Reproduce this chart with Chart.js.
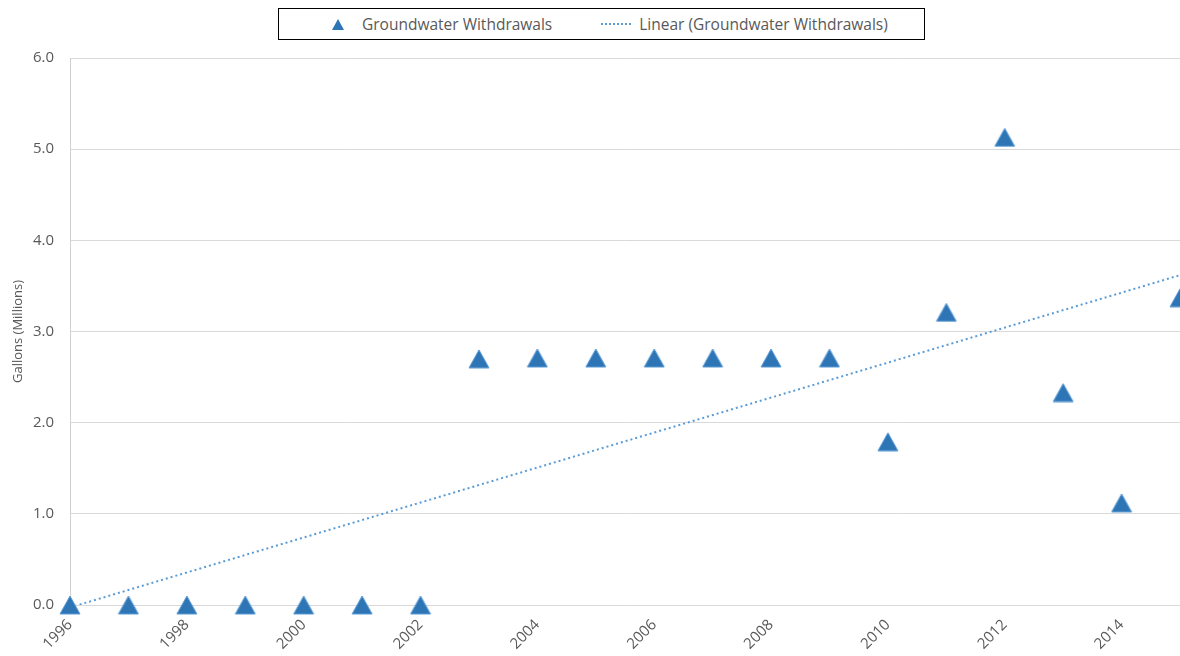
<!DOCTYPE html>
<html>
<head>
<meta charset="utf-8">
<title>Groundwater Withdrawals</title>
<script src="https://cdn.jsdelivr.net/npm/chart.js@4.4.1/dist/chart.umd.min.js"></script>
<style>
  html, body { margin: 0; padding: 0; background: #fff; }
  #wrap { position: relative; width: 1180px; height: 656px; overflow: hidden; }
  #legend {
    position: absolute; left: 278px; top: 8px; width: 647px; height: 32px;
    box-sizing: border-box; border: 1px solid #000; background: #fff;
    display: flex; align-items: center;
    font-family: "Open Sans", sans-serif; font-size: 15.5px; color: #595959;
  }
  .tri {
    width: 0; height: 0; margin-left: 53px; margin-right: 18px;
    border-left: 6px solid transparent; border-right: 6px solid transparent;
    border-bottom: 11px solid #2E75B6;
  }
  .dots {
    width: 30px; height: 0; margin-left: 49px; margin-right: 8px;
    border-top: 2px dotted #5B9BD5;
  }
</style>
</head>
<body>
<div id="wrap">
  <canvas id="chart" width="1180" height="656"></canvas>
  <div id="legend">
    <span class="tri"></span><span>Groundwater Withdrawals</span>
    <span class="dots"></span><span>Linear (Groundwater Withdrawals)</span>
  </div>
</div>
<script>
const years = [1996, 1997, 1998, 1999, 2000, 2001, 2002, 2003, 2004, 2005,
               2006, 2007, 2008, 2009, 2010, 2011, 2012, 2013, 2014, 2015];
const withdrawals = [0, 0, 0, 0, 0, 0, 0, 2.70, 2.71, 2.71,
                     2.71, 2.71, 2.71, 2.71, 1.79, 3.21, 5.13, 2.33, 1.12, 3.37];
const seriesName = 'Groundwater Withdrawals';
const trendName = 'Linear (Groundwater Withdrawals)';
const yMin = 0, yMax = 6, yStep = 1;

// least squares trend over the yearly values
const n = years.length;
const mx = years.reduce((a, b) => a + b, 0) / n;
const my = withdrawals.reduce((a, b) => a + b, 0) / n;
let sxy = 0, sxx = 0;
years.forEach((x, i) => { sxy += (x - mx) * (withdrawals[i] - my); sxx += (x - mx) ** 2; });
const slope = sxy / sxx;
const icept = my - slope * mx;
const trend = [years[0], years[n - 1]].map(x => ({ x, y: icept + slope * x }));

// triangle marker, centred on its bounding box
const marker = document.createElement('canvas');
marker.width = 22; marker.height = 20;
const m = marker.getContext('2d');
m.beginPath();
m.moveTo(11, 1); m.lineTo(21, 19); m.lineTo(1, 19); m.closePath();
m.fillStyle = '#2E75B6'; m.fill();
m.strokeStyle = '#5B9BD5'; m.lineWidth = 1; m.stroke();

const tickFont = { family: 'Open Sans', size: 15 };
const grey = '#595959';

new Chart(document.getElementById('chart'), {
  type: 'scatter',
  data: {
    datasets: [
      {
        label: seriesName,
        data: years.map((x, i) => ({ x, y: withdrawals[i] })),
        pointStyle: marker,
        pointRadius: 10,
        pointHoverRadius: 10,
        clip: false,
        order: 1
      },
      {
        type: 'line',
        label: trendName,
        data: trend,
        borderColor: '#5B9BD5',
        borderWidth: 2,
        borderDash: [2, 3],
        pointRadius: 0,
        fill: false,
        order: 2
      }
    ]
  },
  options: {
    responsive: false,
    animation: false,
    layout: { autoPadding: false, padding: { top: 58, right: 0, bottom: 0, left: 0 } },
    plugins: { legend: { display: false }, tooltip: { enabled: false } },
    scales: {
      x: {
        type: 'linear',
        min: years[0],
        max: years[n - 1],
        afterFit: s => { s.height = 51; s.paddingRight = 0; s.paddingLeft = 0; },
        grid: { display: false, drawTicks: false },
        border: { display: true, color: '#d9d9d9', width: 1 },
        ticks: {
          stepSize: 2,
          includeBounds: false,
          minRotation: 45,
          maxRotation: 45,
          padding: 11,
          color: grey,
          font: tickFont,
          callback: v => String(v)
        }
      },
      y: {
        min: yMin,
        max: yMax,
        afterFit: s => { s.width = 70; },
        grid: { color: '#d9d9d9', drawTicks: false },
        border: { display: true, color: '#d0d0d0', width: 1 },
        ticks: {
          stepSize: yStep,
          padding: 16,
          color: grey,
          font: tickFont,
          callback: v => v.toFixed(1)
        },
        title: {
          display: true,
          text: 'Gallons (Millions)',
          color: grey,
          font: { family: 'Open Sans', size: 13 },
          padding: { top: 10, bottom: 0 }
        }
      }
    }
  }
});
</script>
</body>
</html>
